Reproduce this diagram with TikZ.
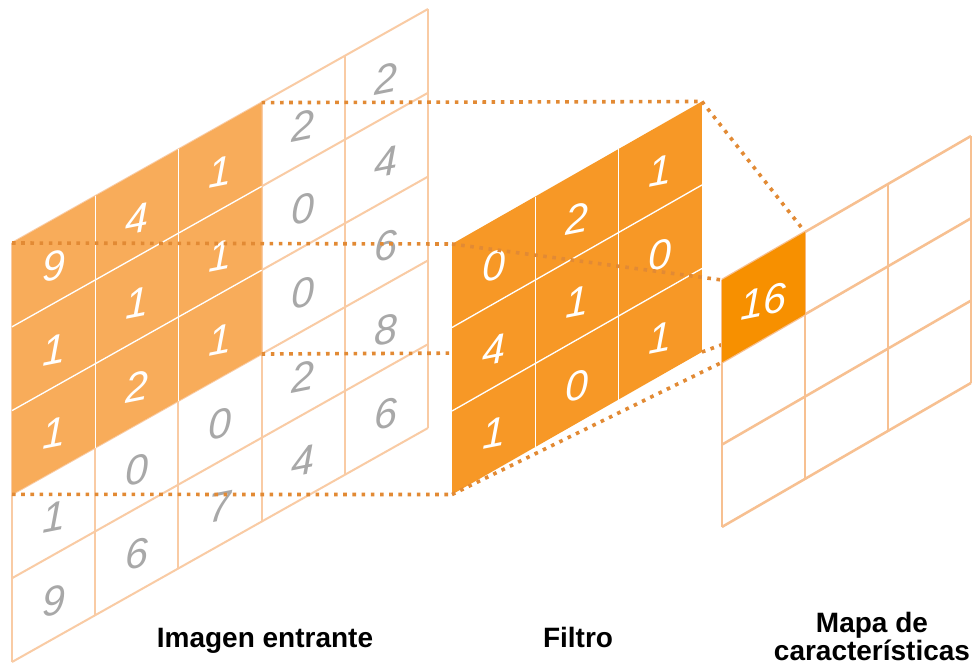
\documentclass[tikz,border=0pt]{standalone}
\usepackage{fontspec}
\setmainfont{Liberation Sans}
\definecolor{gridline}{RGB}{249,203,164}
\definecolor{mapline}{RGB}{247,192,145}
\definecolor{inorange}{RGB}{248,172,90}
\definecolor{filterorange}{RGB}{247,152,38}
\definecolor{maporange}{RGB}{247,144,0}
\definecolor{digitgray}{RGB}{168,168,168}
\definecolor{dotcol}{RGB}{226,138,52}
\begin{document}
\begin{tikzpicture}[x=0.75pt,y=-0.75pt,
  gridln/.style={draw=gridline, line width=1.5pt},
  mapln/.style={draw=mapline, line width=1.9pt},
  whiteln/.style={draw=white, line width=1pt},
  dig/.style={font=\fontsize{31}{31}\selectfont\itshape, yslant=0.2, inner sep=0pt},
  dots/.style={draw=dotcol, line width=2.7pt, dash pattern=on 2.7pt off 4.2pt},
  lab/.style={font=\fontsize{21}{21}\selectfont\bfseries, anchor=base, inner sep=0pt}]
\useasboundingbox (0,0) rectangle (975,668);
\fill[white] (0,0) rectangle (975,668);

% ---------- input image ----------
\begin{scope}[shift={(12,243)}, x={(62.4pt,35.1pt)}, y={(0pt,-62.85pt)}]
  \foreach \i in {0,...,5} {
    \draw[gridln] (\i,0) -- (\i,5);
    \draw[gridln] (0,\i) -- (5,\i);
  }
  \fill[inorange] (0,0) -- (3,0) -- (3,3) -- (0,3) -- cycle;
  \foreach \i in {1,2} {
    \draw[whiteln] (\i,0) -- (\i,3);
    \draw[whiteln] (0,\i) -- (3,\i);
  }
  \coordinate (iTL) at (0,0);
  \coordinate (iTR) at (3,0);
  \coordinate (iBR) at (3,3);
  \coordinate (iBL) at (0,3);
  \foreach \d [count=\k from 0] in {9,4,1,2,2, 1,1,1,0,4, 1,2,1,0,6, 1,0,0,2,8, 9,6,7,4,6} {
    \pgfmathtruncatemacro{\r}{int(\k/5)}
    \pgfmathtruncatemacro{\c}{\k-5*\r}
    \ifnum\r<3 \ifnum\c<3 \def\tcol{white}\else\def\tcol{digitgray}\fi\else\def\tcol{digitgray}\fi
    \node[dig, text=\tcol] (in-\r-\c) at (\c+0.5,\r+0.55) {\d};
  }
\end{scope}

% ---------- filter corners and map corners ----------
\begin{scope}[shift={(452,244)}, x={(62.475pt,35.625pt)}, y={(0pt,-62.625pt)}]
  \coordinate (fTL) at (0,0);
  \coordinate (fTR) at (3,0);
  \coordinate (fBR) at (3,3);
  \coordinate (fBL) at (0,3);
\end{scope}
\begin{scope}[shift={(722,280)}, x={(62.25pt,36pt)}, y={(0pt,-61.725pt)}]
  \coordinate (mTL) at (0,0);
  \coordinate (mTR) at (1,0);
  \coordinate (mBR) at (1,1);
  \coordinate (mBL) at (0,1);
\end{scope}

% horizontal projections (behind the filter)
\draw[dots] (iTR) -- (fTR);
\draw[dots] (iTL) -- (fTL);
\draw[dots] (iBR) -- (fBR);
\draw[dots] (iBL) -- (fBL);

% ---------- filter ----------
\begin{scope}[shift={(452,244)}, x={(62.475pt,35.625pt)}, y={(0pt,-62.625pt)}]
  \fill[filterorange] (0,0) -- (3,0) -- (3,3) -- (0,3) -- cycle;
  \foreach \i in {1,2} {
    \draw[whiteln] (\i,0) -- (\i,3);
    \draw[whiteln] (0,\i) -- (3,\i);
  }
  \foreach \d [count=\k from 0] in {0,2,1, 4,1,0, 1,0,1} {
    \pgfmathtruncatemacro{\r}{int(\k/3)}
    \pgfmathtruncatemacro{\c}{\k-3*\r}
    \node[dig, text=white] (f-\r-\c) at (\c+0.5,\r+0.55) {\d};
  }
\end{scope}

% projections to the feature map
\draw[dots] (fTL) -- (mTL);
\draw[dots] (fTR) -- (mTR);
\draw[dots] (fBR) -- (mBR);
\draw[dots] (fBL) -- (mBL);

% ---------- feature map ----------
\begin{scope}[shift={(722,280)}, x={(62.25pt,36pt)}, y={(0pt,-61.725pt)}]
  \foreach \i in {0,...,3} {
    \draw[mapln] (\i,0) -- (\i,3);
    \draw[mapln] (0,\i) -- (3,\i);
  }
  \fill[maporange] (0,0) -- (1,0) -- (1,1) -- (0,1) -- cycle;
  \node[dig, text=white] (m-0-0) at (0.5,0.55) {16};
\end{scope}

% ---------- labels ----------
\node[lab] (lab-in) at (265,647) {Imagen entrante};
\node[lab] (lab-f) at (578,647) {Filtro};
\node[lab] (lab-m1) at (872,632) {Mapa de};
\node[lab] (lab-m2) at (872,660) {características};
\end{tikzpicture}
\end{document}
